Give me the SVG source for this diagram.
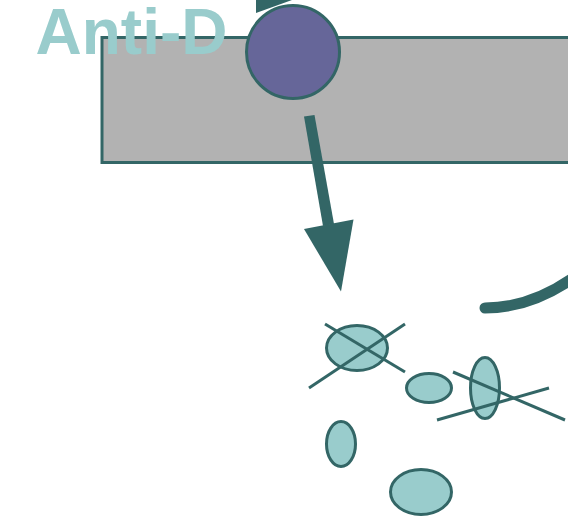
<svg xmlns="http://www.w3.org/2000/svg" width="568" height="519" viewBox="0 0 568 519">
  <style>
    .cell { fill: #99cccc; stroke: #336666; stroke-width: 3; }
    .cross { fill: none; stroke: #336666; stroke-width: 3; }
    .solid { fill: #336666; }
  </style>
  <rect width="568" height="519" fill="#ffffff"/>
  <g id="membrane">
    <rect x="102" y="37.500" width="480" height="125" fill="#b2b2b2" stroke="#336666" stroke-width="3"/>
  </g>
  <g id="title">
    <text x="35.500" y="54" font-family="'Liberation Sans', Arial, sans-serif" font-weight="700" font-size="64" fill="#99cccc">Anti-D</text>
  </g>
  <g id="connectors">
    <polygon class="solid" points="256,0 292,0 256,13"/>
    <polygon class="solid" points="304,116.500 314.500,115 334,224 323,226"/>
    <polygon class="solid" points="304,229 353.500,219.500 341,291.500"/>
    <path d="M485,308 Q530,308 573,278" fill="none" stroke="#336666" stroke-width="11" stroke-linecap="round"/>
  </g>
  <g id="antibody">
    <circle cx="293" cy="52" r="46.500" fill="#666699" stroke="#336666" stroke-width="3"/>
  </g>
  <g id="cell-1">
    <ellipse class="cell" cx="357" cy="348" rx="30.500" ry="22.500"/>
    <line class="cross" x1="325" y1="324" x2="405" y2="372"/>
    <line class="cross" x1="309" y1="388" x2="405" y2="324"/>
  </g>
  <g id="cell-2">
    <ellipse class="cell" cx="429" cy="388" rx="22.500" ry="14.500"/>
  </g>
  <g id="cell-3">
    <ellipse class="cell" cx="485" cy="388" rx="14.500" ry="30.500"/>
    <line class="cross" x1="453" y1="372" x2="565" y2="420"/>
    <line class="cross" x1="437" y1="420" x2="549" y2="388"/>
  </g>
  <g id="cell-4">
    <ellipse class="cell" cx="341" cy="444" rx="14.500" ry="22.500"/>
  </g>
  <g id="cell-5">
    <ellipse class="cell" cx="421" cy="492" rx="30.500" ry="22.500"/>
  </g>
</svg>
